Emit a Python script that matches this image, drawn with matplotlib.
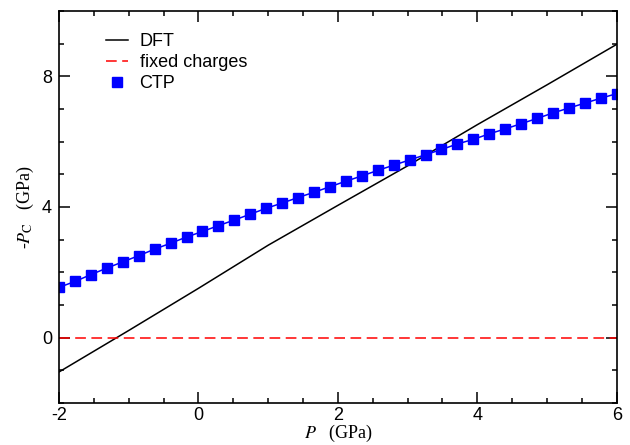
import numpy as np
import matplotlib
matplotlib.use("Agg")
import matplotlib.pyplot as plt
from matplotlib.ticker import MultipleLocator

# DFT reference curve
dft_p = [-2, -1, 0, 1, 2, 3, 4, 5, 6]
dft_pc = [-1.05, 0.22, 1.51, 2.83, 4.05, 5.26, 6.52, 7.74, 8.98]

# fixed charges model gives zero everywhere
fixed_p = [-2, 6]
fixed_pc = [0.0, 0.0]

# CTP points, 36 evenly spaced pressures from -2 to 6 GPa
ctp_p = np.linspace(-2, 6, 36)
ctp_pc = [1.54, 1.72, 1.93, 2.13, 2.32, 2.51, 2.71, 2.89, 3.08, 3.25,
          3.43, 3.60, 3.78, 3.96, 4.12, 4.29, 4.45, 4.62, 4.79, 4.95,
          5.12, 5.28, 5.44, 5.60, 5.76, 5.93, 6.07, 6.24, 6.39, 6.55,
          6.71, 6.88, 7.03, 7.18, 7.33, 7.47]

xticks = [-2, 0, 2, 4, 6]
yticks = [0, 4, 8]


def main():
    plt.rcParams['font.family'] = ['Liberation Sans', 'DejaVu Sans']
    plt.rcParams['mathtext.fontset'] = 'stix'
    plt.rcParams['axes.unicode_minus'] = False

    fig = plt.figure(figsize=(6.3, 4.45), dpi=100)
    ax = fig.add_axes([0.0937, 0.0944, 0.8853, 0.8809])

    ax.plot(dft_p, dft_pc, color='black', lw=1.1, label='DFT')
    ax.plot(fixed_p, fixed_pc, color='red', lw=1.1, dashes=(7, 3.6),
            label='fixed charges')
    ax.plot(ctp_p, ctp_pc, color='blue', lw=1.1, marker='s', ms=7.5,
            mec='blue', mfc='blue', label='CTP')

    ax.set_xlim(-2, 6)
    ax.set_ylim(-2, 10)
    ax.set_xticks(xticks)
    ax.set_yticks(yticks)
    ax.xaxis.set_minor_locator(MultipleLocator(0.5))
    ax.yaxis.set_minor_locator(MultipleLocator(1))
    ax.tick_params(which='both', direction='in', top=True, right=True,
                   labelsize=13, width=1.1)
    ax.tick_params(which='major', length=8, pad=5)
    ax.tick_params(which='minor', length=3.6)
    ax.tick_params(axis='x', which='major', pad=3)
    for s in ax.spines.values():
        s.set_linewidth(1.2)

    ax.set_xlabel(r"$P$   (GPa)", family='Liberation Serif', fontsize=13,
                  labelpad=-1)
    ax.set_ylabel(r"-$P_{\rm C}$   (GPa)", family='Liberation Serif',
                  fontsize=13, labelpad=4)

    leg = ax.legend(loc='upper left', frameon=False, fontsize=13,
                    handlelength=1.2, handletextpad=0.66, labelspacing=0.22,
                    bbox_to_anchor=(0.055, 0.985))
    leg.legend_handles[2].set_linestyle('None')

    plt.savefig("out.png", dpi=100)


if __name__ == "__main__":
    main()
